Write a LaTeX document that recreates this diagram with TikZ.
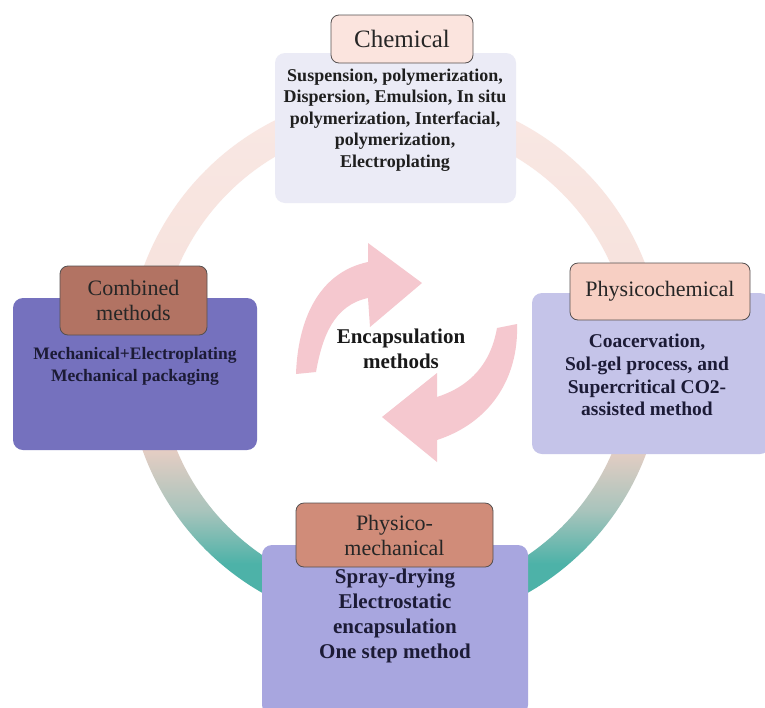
\documentclass[tikz,border=0pt]{standalone}
\usepackage{fontspec}
\setmainfont{Liberation Serif}
\definecolor{ringteal}{HTML}{4DB2A8}
\definecolor{ringmid}{HTML}{A9C4BC}
\definecolor{ringpeach}{HTML}{E9CEC4}
\definecolor{ringpink}{HTML}{F6E0DA}
\definecolor{ringtop}{HTML}{F9E8E4}
\definecolor{arrowpink}{HTML}{F5C8CF}
\definecolor{chembody}{HTML}{EBEBF6}
\definecolor{chemlabel}{HTML}{FBE4DE}
\definecolor{combbody}{HTML}{7571BE}
\definecolor{comblabel}{HTML}{B27363}
\definecolor{pcbody}{HTML}{C5C4E9}
\definecolor{pclabel}{HTML}{F7CFC3}
\definecolor{pmbody}{HTML}{A8A6DF}
\definecolor{pmlabel}{HTML}{D08C79}
\definecolor{labeltext}{HTML}{262626}
\definecolor{bodytext}{HTML}{1C1B36}
\pgfdeclareverticalshading{ringshade}{100bp}{color(0bp)=(ringteal); color(31bp)=(ringteal); color(36bp)=(ringmid); color(42bp)=(ringpeach); color(50bp)=(ringpink); color(75bp)=(ringtop); color(100bp)=(ringtop)}
\tikzset{
  bodybox/.style={rounded corners=10pt, draw=none, inner sep=0pt},
  labelbox/.style={rounded corners=8pt, draw={rgb,255:red,85;green,80;blue,80}, line width=0.8pt, inner sep=0pt, align=center, text=labeltext},
  bodytxt/.style={align=center, text=bodytext, inner sep=0pt, font=\bfseries},
  cyclearrow/.style={fill=arrowpink, draw=none},
}
\begin{document}
\begin{tikzpicture}[x=1pt,y=1pt]
\useasboundingbox (0,0) rectangle (765,-707);
\clip (0,0) rectangle (765,-707);
\fill[white] (0,0) rectangle (765,-707);
% ring
\path[shading=ringshade, even odd rule] (395,-360) circle[radius=268] (395,-360) circle[radius=236];
% center arrows
\path[cyclearrow] (296,-374) to[out=88,in=192] (368,-262) -- (368,-243) -- (422,-283) -- (370,-327) -- (368,-298)
  to[out=192,in=80] (316,-372) -- cycle;
\path[cyclearrow] (517,-324) to[out=-88,in=18] (437,-440) -- (437,-462) -- (382,-417) -- (437,-373) -- (437,-397)
  to[out=18,in=-100] (497,-328) -- cycle;
\node[bodytxt, text=black!90, font=\fontsize{21}{25}\selectfont\bfseries] (center) at (401,-349) {Encapsulation\\methods};
% Chemical
\node[bodybox, fill=chembody, minimum width=241, minimum height=150] (chemB) at (395.5,-128) {};
\node[labelbox, fill=chemlabel, minimum width=142, minimum height=48, font=\fontsize{25}{28}\selectfont] (chemL) at (402,-39) {Chemical};
\node[bodytxt, text=black!88, font=\fontsize{18}{21.5}\selectfont\bfseries] (chemT) at (395,-120) {Suspension, polymerization,\\Dispersion, Emulsion, In situ\\polymerization, Interfacial,\\polymerization,\\Electroplating};
% Combined
\node[bodybox, fill=combbody, minimum width=244, minimum height=152] (combB) at (135,-374) {};
\node[labelbox, fill=comblabel, minimum width=147, minimum height=69, font=\fontsize{22}{25}\selectfont] (combL) at (133.5,-300.5) {Combined\\methods};
\node[bodytxt, font=\fontsize{17.5}{22}\selectfont\bfseries] (combT) at (135,-366) {Mechanical+Electroplating\\Mechanical packaging};
% Physicochemical
\node[bodybox, fill=pcbody, minimum width=238, minimum height=161] (pcB) at (651,-373.5) {};
\node[labelbox, fill=pclabel, minimum width=180, minimum height=57, font=\fontsize{22}{25}\selectfont] (pcL) at (660,-291.5) {Physicochemical};
\node[bodytxt, font=\fontsize{19.5}{22.7}\selectfont\bfseries] (pcT) at (647,-375) {Coacervation,\\Sol-gel process, and\\Supercritical CO2-\\assisted method};
% Physico-mechanical
\node[bodybox, fill=pmbody, minimum width=266, minimum height=170] (pmB) at (395,-630) {};
\node[labelbox, fill=pmlabel, minimum width=197, minimum height=64, font=\fontsize{22}{25}\selectfont] (pmL) at (394.5,-535) {Physico-\\mechanical};
\node[bodytxt, font=\fontsize{21}{25}\selectfont\bfseries] (pmT) at (395,-616) {Spray-drying\\Electrostatic\\encapsulation\\One step method};
\end{tikzpicture}
\end{document}
